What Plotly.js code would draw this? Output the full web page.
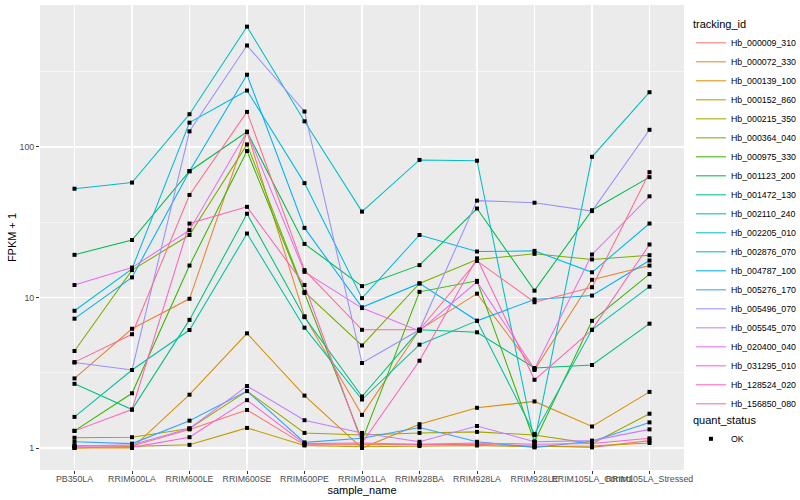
<!DOCTYPE html>
<html>
<head>
<meta charset="utf-8">
<script src="https://cdn.plot.ly/plotly-3.0.1.min.js"></script>
<style>html,body{margin:0;padding:0;background:#fff;}#chart{width:800px;height:500px;}</style>
</head>
<body>
<div id="chart"></div>
<script>
// Categories (x axis)
const samples = ['PB350LA','RRIM600LA','RRIM600LE','RRIM600SE','RRIM600PE','RRIM901LA','RRIM928BA','RRIM928LA','RRIM928LE','RRIM105LA_Control','RRIM105LA_Stressed'];

// Series values: FPKM + 1, one array per tracking_id, in sample order
const Hb_000009_310 = [1.04, 1.03, 1.33, 1.79, 1.05, 1.05, 1.05, 1.06, 1.03, 1.01, 1.12];
const Hb_000072_330 = [2.9, 6.2, 9.8, 126, 7.5, 1.66, 6.1, 10.6, 3.3, 13.1, 16.3];
const Hb_000139_100 = [1.0, 1.0, 2.26, 5.78, 2.23, 1.0, 1.44, 1.85, 2.04, 1.39, 2.36];
const Hb_000152_860 = [1.0, 1.02, 1.05, 1.36, 1.04, 1.02, 1.03, 1.04, 1.02, 1.03, 1.08];
const Hb_000215_350 = [1.17, 1.18, 1.35, 2.39, 1.26, 1.22, 1.26, 1.28, 1.22, 1.07, 1.69];
const Hb_000364_040 = [4.41, 15.2, 26, 104, 10.9, 4.8, 12.4, 17.9, 19.5, 17.9, 19.1];
const Hb_000975_330 = [1.3, 2.31, 16.3, 94, 10.7, 1.12, 10.9, 12.9, 1.1, 7.0, 14.3];
const Hb_001123_200 = [19.2, 24.1, 69, 126, 22.7, 11.9, 16.4, 39, 11.1, 38, 63];
const Hb_001472_130 = [2.67, 1.8, 7.1, 36, 7.4, 2.2, 6.1, 5.87, 3.4, 3.56, 6.7];
const Hb_002110_240 = [1.61, 3.3, 6.08, 26.6, 6.3, 2.1, 4.86, 7.0, 1.24, 6.1, 11.8];
const Hb_002205_010 = [52.8, 58, 165, 630, 148, 37.2, 82, 81, 1.1, 86, 231];
const Hb_002876_070 = [8.16, 15.5, 145, 237, 57.5, 9.9, 26, 20.2, 20.4, 14.7, 31];
const Hb_004787_100 = [7.23, 13.6, 69, 302, 29, 8.6, 12.4, 7.0, 9.7, 10.3, 17.6];
const Hb_005276_170 = [1.10, 1.07, 1.52, 2.39, 1.09, 1.16, 1.37, 1.1, 1.01, 1.11, 1.48];
const Hb_005496_070 = [3.7, 3.3, 127, 472, 172, 3.67, 6.1, 44, 42.6, 37.5, 130];
const Hb_005545_070 = [1.03, 1.05, 1.35, 2.58, 1.53, 1.26, 1.1, 1.40, 1.1, 1.12, 1.33];
const Hb_020400_040 = [12.1, 15.8, 28, 126, 14.8, 8.5, 6.0, 12.7, 3.35, 19.3, 47];
const Hb_031295_010 = [1.02, 1.01, 1.18, 2.08, 1.07, 1.08, 1.06, 1.08, 1.06, 1.07, 1.16];
const Hb_128524_020 = [1.3, 1.8, 31, 40, 12.1, 1.08, 3.8, 18.2, 2.84, 6.1, 22.5];
const Hb_156850_080 = [3.72, 5.7, 48, 171, 15.2, 6.1, 6.1, 17.5, 9.3, 11.7, 68];

const trackingIds = ['Hb_000009_310','Hb_000072_330','Hb_000139_100','Hb_000152_860','Hb_000215_350','Hb_000364_040','Hb_000975_330','Hb_001123_200','Hb_001472_130','Hb_002110_240','Hb_002205_010','Hb_002876_070','Hb_004787_100','Hb_005276_170','Hb_005496_070','Hb_005545_070','Hb_020400_040','Hb_031295_010','Hb_128524_020','Hb_156850_080'];
const seriesValues = [Hb_000009_310,Hb_000072_330,Hb_000139_100,Hb_000152_860,Hb_000215_350,Hb_000364_040,Hb_000975_330,Hb_001123_200,Hb_001472_130,Hb_002110_240,Hb_002205_010,Hb_002876_070,Hb_004787_100,Hb_005276_170,Hb_005496_070,Hb_005545_070,Hb_020400_040,Hb_031295_010,Hb_128524_020,Hb_156850_080];
const quantStatus = ['OK'];

// Styles (ggplot2 default hue palette, 20 levels)
const palette = ['#F8766D','#EA8331','#D89000','#C09B00','#A3A500','#7CAE00','#39B600','#00BB4E','#00BF7D','#00C1A3','#00BFC4','#00BAE0','#00B0F6','#35A2FF','#9590FF','#C77CFF','#E76BF3','#FA62DB','#FF62BC','#FF6C91'];

const FONT = 'Liberation Sans, Arial, Helvetica, sans-serif';

const traces = trackingIds.map((id, i) => ({
  type: 'scatter', mode: 'lines', name: id,
  x: samples, y: seriesValues[i],
  line: {color: palette[i], width: 1.05},
  legend: 'legend', hoverinfo: 'skip'
}));

// Points layer (quant_status = OK) built from the same arrays
const px = [], py = [];
seriesValues.forEach(vals => vals.forEach((v, j) => { px.push(samples[j]); py.push(v); }));
traces.push({
  type: 'scatter', mode: 'markers', name: quantStatus[0],
  x: px, y: py,
  marker: {color: '#000000', symbol: 'square', size: 4},
  legend: 'legend2', hoverinfo: 'skip'
});

const layout = {
  width: 800, height: 500,
  margin: {l: 40, r: 116, t: 5, b: 30, pad: 0, autoexpand: false},
  paper_bgcolor: '#FFFFFF', plot_bgcolor: '#EBEBEB',
  font: {family: FONT, size: 9, color: '#4D4D4D'},
  showlegend: true,
  xaxis: {
    type: 'category', categoryorder: 'array', categoryarray: samples,
    range: [-0.6, 10.6], showgrid: true, gridcolor: '#FFFFFF', gridwidth: 1.1,
    zeroline: false, showline: false, automargin: false,
    ticks: 'outside', ticklen: 3, tickwidth: 1, tickcolor: '#333333', tickangle: 0,
    ticklabelstandoff: -3,
    tickfont: {family: FONT, size: 8.8, color: '#4D4D4D'},
    title: {text: 'sample_name', font: {family: FONT, size: 11, color: '#000000'}, standoff: 3}
  },
  yaxis: {
    type: 'log', range: [-0.146, 2.943],
    tickmode: 'array', tickvals: [1, 10, 100], ticktext: ['1', '10', '100'],
    showgrid: true, gridcolor: '#FFFFFF', gridwidth: 1.1,
    minor: {tickmode: 'array', tickvals: [3.1623, 31.623, 316.23], showgrid: true, gridcolor: '#FFFFFF', gridwidth: 0.55, ticks: ''},
    zeroline: false, showline: false, automargin: false,
    ticks: 'outside', ticklen: 3, tickwidth: 1, tickcolor: '#333333',
    tickfont: {family: FONT, size: 8.8, color: '#4D4D4D'},
    title: {text: 'FPKM + 1', font: {family: FONT, size: 11, color: '#000000'}, standoff: 0}
  },
  legend: {
    title: {text: 'tracking_id', font: {family: FONT, size: 11, color: '#000000'}},
    x: 1.0108, xanchor: 'left', y: 0.9806, yanchor: 'top',
    font: {family: FONT, size: 8.8, color: '#000000'},
    bgcolor: 'rgba(0,0,0,0)', tracegroupgap: 0, itemwidth: 30
  },
  legend2: {
    title: {text: 'quant_status', font: {family: FONT, size: 11, color: '#000000'}},
    x: 1.0108, xanchor: 'left', y: 0.129, yanchor: 'top',
    font: {family: FONT, size: 8.8, color: '#000000'},
    bgcolor: 'rgba(0,0,0,0)', itemwidth: 30
  }
};

Plotly.newPlot('chart', traces, layout, {staticPlot: true, displayModeBar: false});
</script>
</body>
</html>
